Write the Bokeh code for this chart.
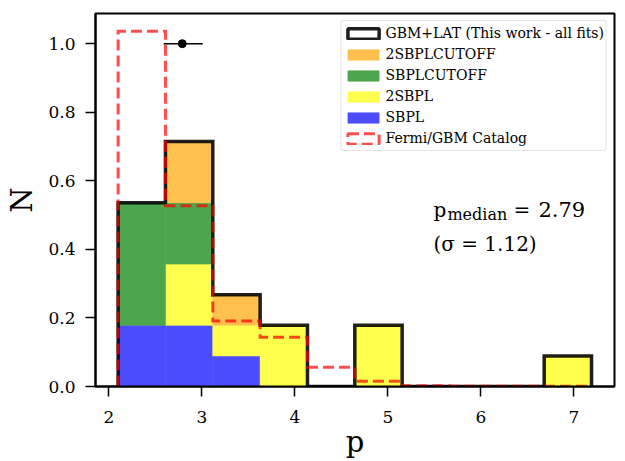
import numpy as np
from bokeh.plotting import figure
from bokeh.models import Legend, LegendItem, Label, FixedTicker, PrintfTickFormatter
from bokeh.embed import file_html
from bokeh.resources import INLINE

# ---------------- data ----------------
bin_min = 2.10
bin_max = 7.19
n_bins = 10
model_names = ["SBPL", "2SBPL", "SBPLCUTOFF", "2SBPLCUTOFF"]
counts_SBPL = [2, 2, 1, 0, 0, 0, 0, 0, 0, 0]
counts_2SBPL = [0, 2, 1, 2, 0, 2, 0, 0, 0, 1]
counts_SBPLCUTOFF = [4, 2, 0, 0, 0, 0, 0, 0, 0, 0]
counts_2SBPLCUTOFF = [0, 2, 1, 0, 0, 0, 0, 0, 0, 0]
gbm_catalog_density = [1.036, 0.527, 0.191, 0.144, 0.056, 0.015, 0.002, 0.001, 0.001, 0.001]
p_median = 2.79
p_err_low = 0.20
p_err_high = 0.22
p_marker_y = 1.0
p_sigma = 1.12
x_ticks = [2, 3, 4, 5, 6, 7]
y_ticks = [0.0, 0.2, 0.4, 0.6, 0.8, 1.0]
# blue, yellow, green, orange at 70% opacity over white
model_colors = ["#4d4dff", "#ffff4d", "#4da64d", "#ffc04d"]

SERIF = "DejaVu Serif"
X_RANGE = (1.857, 7.437)
Y_RANGE = (0, 1.088)

# ---------------- derived ----------------
edges = np.linspace(bin_min, bin_max, n_bins + 1)
width = edges[1] - edges[0]
all_counts = np.array([counts_SBPL, counts_2SBPL, counts_SBPLCUTOFF, counts_2SBPLCUTOFF], dtype=float)
total = all_counts.sum()
dens = all_counts / (total * width)


def step_xy(h):
    xs = [edges[0]]
    ys = [0.0]
    for i in range(n_bins):
        xs += [edges[i], edges[i + 1]]
        ys += [h[i], h[i]]
    xs.append(edges[-1])
    ys.append(0.0)
    return xs, ys


p = figure(width=625, height=461, x_range=X_RANGE, y_range=Y_RANGE,
           output_backend="svg", toolbar_location=None,
           min_border_left=95, min_border_right=11, min_border_top=13, min_border_bottom=75,
           background_fill_color="white", border_fill_color="white")
p.xgrid.visible = False
p.ygrid.visible = False
p.outline_line_color = "black"
p.outline_line_width = 2
p.outline_line_alpha = 1

# stacked fills
bottom = np.zeros(n_bins)
fill_renderers = {}
for name, d, col in zip(model_names, dens, model_colors):
    mask = d > 0
    r = p.quad(left=edges[:-1][mask], right=edges[1:][mask], bottom=bottom[mask],
               top=(bottom + d)[mask], fill_color=col, line_color=col, line_width=0.6)
    fill_renderers[name] = r
    bottom = bottom + d

# total envelope
sx, sy = step_xy(bottom)
p.line(sx, sy, line_color="black", line_alpha=0.88, line_width=3.5, line_join="miter")

# Fermi/GBM catalog
cx, cy = step_xy(gbm_catalog_density)
p.line(cx, cy, line_color="red", line_alpha=0.7, line_width=3, line_dash="11 5", line_join="miter")

# median with error bar
p.segment(x0=[p_median - p_err_low], y0=[p_marker_y], x1=[p_median + p_err_high], y1=[p_marker_y],
          line_color="black", line_width=1.5)
p.scatter(x=[p_median], y=[p_marker_y], size=8, fill_color="black", line_color="black")

# legend-only swatches (NaN data: nothing is drawn in the plot area)
nan = [float("nan")]
dummy_black = p.quad(left=nan, right=nan, top=nan, bottom=nan, fill_color="white",
                     line_color="black", line_alpha=0.88, line_width=3.5)
dummy_red = p.quad(left=nan, right=nan, top=nan, bottom=nan, fill_color="white", fill_alpha=0,
                   line_color="red", line_alpha=0.7, line_width=3, line_dash="11 5")

legend = Legend(items=[
    LegendItem(label="GBM+LAT (This work - all fits)", renderers=[dummy_black]),
    LegendItem(label="2SBPLCUTOFF", renderers=[fill_renderers["2SBPLCUTOFF"]]),
    LegendItem(label="SBPLCUTOFF", renderers=[fill_renderers["SBPLCUTOFF"]]),
    LegendItem(label="2SBPL", renderers=[fill_renderers["2SBPL"]]),
    LegendItem(label="SBPL", renderers=[fill_renderers["SBPL"]]),
    LegendItem(label="Fermi/GBM Catalog", renderers=[dummy_red]),
], location="top_right")
legend.margin = 7
legend.padding = 2
legend.spacing = 1
legend.label_height = 20
legend.glyph_width = 39
legend.glyph_height = 13
legend.label_standoff = 3
legend.label_text_font = SERIF
legend.label_text_font_size = "14px"
legend.label_text_color = "black"
legend.border_line_color = "#cccccc"
legend.border_line_width = 1
legend.border_radius = 3
legend.background_fill_color = "white"
legend.background_fill_alpha = 0.8
p.add_layout(legend)

# annotation
ax0 = 5.49
y1 = 0.516
y2 = 0.416
p.add_layout(Label(x=ax0, y=y1, text="p", text_font=SERIF, text_font_size="20px",
                   text_baseline="alphabetic", text_color="black"))
p.add_layout(Label(x=ax0, y=y1, x_offset=14, y_offset=-5, text="median", text_font=SERIF,
                   text_font_size="16px", text_baseline="alphabetic", text_color="black"))
p.add_layout(Label(x=ax0, y=y1, x_offset=80, text="=", text_font=SERIF,
                   text_font_size="20px", text_baseline="alphabetic", text_color="black"))
p.add_layout(Label(x=ax0, y=y1, x_offset=105, text=f"{p_median:.2f}", text_font=SERIF,
                   text_font_size="21px", text_baseline="alphabetic", text_color="black"))
p.add_layout(Label(x=ax0, y=y2, text=f"(\u03c3 = {p_sigma:.2f})", text_font=SERIF,
                   text_font_size="20px", text_baseline="alphabetic", text_color="black"))

# axes
p.xaxis.ticker = FixedTicker(ticks=x_ticks)
p.yaxis.ticker = FixedTicker(ticks=y_ticks)
p.xaxis.formatter = PrintfTickFormatter(format="%d")
p.yaxis.formatter = PrintfTickFormatter(format="%.1f")
p.xaxis.axis_label = "p"
p.yaxis.axis_label = "N"
for ax in (p.xaxis[0], p.yaxis[0]):
    ax.axis_line_width = 2
    ax.axis_line_color = "black"
    ax.major_tick_line_width = 1.5
    ax.major_tick_line_color = "black"
    ax.major_tick_out = 10
    ax.major_tick_in = 0
    ax.minor_tick_out = 0
    ax.minor_tick_in = 0
    ax.major_label_standoff = 10
    ax.major_label_text_font = SERIF
    ax.major_label_text_font_size = "17px"
    ax.major_label_text_color = "black"
    ax.axis_label_text_font = SERIF
    ax.axis_label_text_font_size = "29px"
    ax.axis_label_text_font_style = "normal"
    ax.axis_label_text_color = "black"
p.xaxis.major_label_standoff = 14
p.xaxis.axis_label_standoff = -1
p.yaxis.axis_label_standoff = 6

open("out.html", "w").write(file_html(p, INLINE))
